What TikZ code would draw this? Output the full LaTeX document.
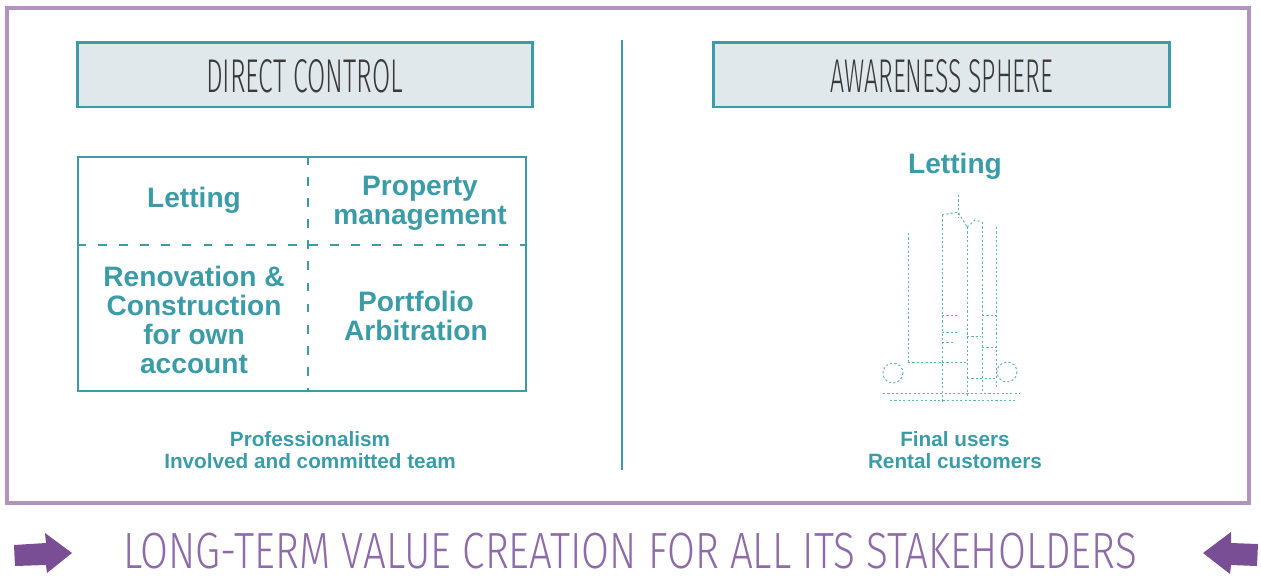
\documentclass[tikz,border=0pt]{standalone}
\usepackage{fontspec}
\setmainfont{Liberation Sans}
\newfontfamily\handfont{Fira Sans Light}
\usetikzlibrary{positioning, calc}
\definecolor{FrameLilac}{HTML}{B094BF}
\definecolor{BrandTeal}{HTML}{3B9CA7}
\definecolor{HeaderGrey}{HTML}{E1E8EB}
\definecolor{InkGrey}{HTML}{3A3A3A}
\definecolor{SloganPurple}{HTML}{8D6AA8}
\definecolor{ArrowPurple}{HTML}{7A4E94}

\begin{document}
\begin{tikzpicture}[
    x=0.02cm, y=-0.02cm,
    header/.style={
        rectangle, draw=BrandTeal, fill=HeaderGrey, line width=1.7pt,
        minimum width=9.12cm, minimum height=1.3cm, inner sep=0pt
    },
    headtext/.style={inner sep=0pt, text=InkGrey},
    cell/.style={
        align=center, text=BrandTeal, inner sep=0pt,
        font=\bfseries\fontsize{16}{16.6}\selectfont
    },
    note/.style={
        align=center, text=BrandTeal, inner sep=0pt,
        font=\bfseries\fontsize{11.8}{13}\selectfont
    },
    divider/.style={draw=BrandTeal, line width=1.1pt, dash pattern=on 5pt off 7pt},
    sketch/.style={draw=BrandTeal!80, line width=0.55pt, dash pattern=on 1.2pt off 1.3pt},
    bigarrow/.style={fill=ArrowPurple}
]
    \useasboundingbox (0,0) rectangle (1261,576);

    % Outer frame
    \draw[FrameLilac, line width=2pt] (7,8) rectangle (1249,503);

    % Headers
    \node[header] (direct) at (305,74.5) {};
    \node[headtext] at (304.5,76.5) {\resizebox{3.94cm}{0.66cm}{\handfont DIRECT CONTROL}};

    \node[header] (aware) at (941.5,74.5) {};
    \node[headtext] at (941.5,76.5) {\resizebox{4.46cm}{0.66cm}{\handfont AWARENESS SPHERE}};

    % Middle separator
    \draw[BrandTeal, line width=1.3pt] (622,40) -- (622,470);

    % Direct control grid
    \node[draw=BrandTeal, line width=1.1pt, minimum width=8.96cm, minimum height=4.68cm, inner sep=0pt] (grid) at (302,274) {};
    \coordinate (split) at (308,245);
    \draw[divider] (grid.west |- split) -- (grid.east |- split);
    \draw[divider] (grid.north -| split) -- (grid.south -| split);

    \node[cell] (letting) at (194,200) {Letting};
    \node[cell] (propmgmt) at (420,203) {Property\\management};
    \node[cell] (renov) at (194,320) {Renovation \&\\Construction\\for own\\account};
    \node[cell] (arbit) at (416,316) {Portfolio\\Arbitration};

    \node[note] (team) at (310,450) {Professionalism\\Involved and committed team};

    % Awareness side
    \node[cell] (letting2) at (955,166) {Letting};
    \node[note] (users) at (955,450) {Final users\\Rental customers};

    % Tower sketch
    \draw[sketch] (958,195) -- (958,217);
    \draw[sketch] (908,233) -- (908,362);
    \draw[sketch] (942,215) -- (942,402);
    \draw[sketch] (967,227) -- (967,397);
    \draw[sketch] (982,222) -- (982,393);
    \draw[sketch] (996,227) -- (996,387);
    \draw[sketch] (942,215) -- (958,212) -- (967,227);
    \draw[sketch] (967,227) -- (975,220) -- (982,222);
    \draw[sketch] (942,315) -- (957,315) (942,332) -- (957,332) (942,342) -- (955,342);
    \draw[sketch] (967,336) -- (981,336) (982,347) -- (996,347) (982,315) -- (996,315);
    \draw[sketch] (942,362) -- (967,362) (967,378) -- (996,378) (908,362) -- (942,362);
    \draw[sketch] (893,373) circle (10);
    \draw[sketch] (1007,372) circle (10);
    \draw[sketch] (883,393) -- (1020,393) (890,400) -- (1015,400);

    % Slogan with arrows
    \node[inner sep=0pt] (slogan) at (630,551) {\resizebox*{20.28cm}{0.72cm}{\color{SloganPurple}\handfont LONG-TERM VALUE CREATION FOR ALL ITS STAKEHOLDERS}};
    \fill[bigarrow] (14,545) -- (46,543) -- (45,533) -- (72,553) -- (47,573) -- (46,565) -- (15,566) -- cycle;
    \fill[bigarrow] (1258,544) -- (1231,543) -- (1231,532) -- (1203,553) -- (1230,574) -- (1231,565) -- (1257,566) -- cycle;

\end{tikzpicture}
\end{document}
